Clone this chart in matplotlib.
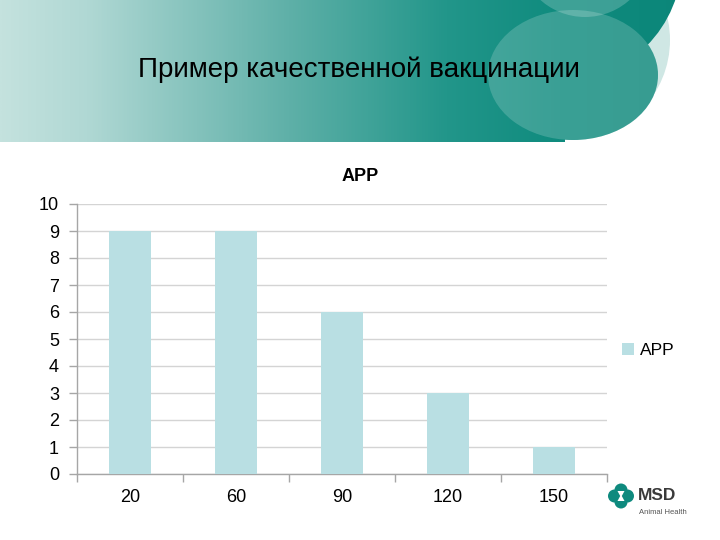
import numpy as np
import matplotlib
matplotlib.use("Agg")
import matplotlib.pyplot as plt
from matplotlib.patches import Rectangle, Circle, Ellipse, Polygon
from matplotlib.colors import LinearSegmentedColormap

plt.rcParams['font.family'] = ['Liberation Sans', 'DejaVu Sans']

categories = ['20', '60', '90', '120', '150']
values = [9, 9, 6, 3, 1]
series_name = 'APP'
chart_title = 'APP'
slide_title = 'Пример качественной вакцинации'
y_ticks = list(range(0, 11))

fig = plt.figure(figsize=(7.2, 5.4), dpi=100)
fig.patch.set_facecolor('white')

# ---- slide background header ----
bg = fig.add_axes([0, 0, 1, 1], zorder=0)
bg.set_xlim(0, 720)
bg.set_ylim(540, 0)
bg.axis('off')

cmap = LinearSegmentedColormap.from_list('hdr', [
    (0.0, '#c4e2de'), (0.12, '#b0d8d4'), (0.40, '#5fb0a8'),
    (0.62, '#22968a'), (0.78, '#0f8b7e'), (1.0, '#0b8578')])
grad = np.linspace(0, 1, 512).reshape(1, -1)

bg.add_patch(Circle((570, 40), 100, facecolor='#cfe7e4', edgecolor='none', zorder=1))

def grad_clipped(patch, z):
    patch.set_facecolor('none')
    patch.set_edgecolor('none')
    bg.add_patch(patch)
    im = bg.imshow(grad, extent=(0, 720, 150, -5), cmap=cmap, aspect='auto',
                   interpolation='bilinear', zorder=z)
    im.set_clip_path(patch)
    return im

grad_clipped(Rectangle((0, 0), 565, 142), 2)
grad_clipped(Circle((560, -40), 122), 2)
grad_clipped(Ellipse((573, 75), 170, 130), 3)
bg.add_patch(Ellipse((573, 75), 170, 130, facecolor='white', alpha=0.18,
                     edgecolor='none', zorder=4))
bg.add_patch(Circle((585, -50), 67, facecolor='white', alpha=0.2,
                    edgecolor='none', zorder=5))

fig.text(359 / 720, 1 - 70 / 540, slide_title, ha='center', va='center',
         fontsize=20, color='black', zorder=10)

# ---- MSD logo ----
teal = '#0e8a7e'
cx, cy = 621, 496
for dx, dy in [(-6.5, 0), (6.5, 0), (0, -6), (0, 6)]:
    bg.add_patch(Circle((cx + dx, cy + dy), 6.5, facecolor=teal, edgecolor='none', zorder=6))
bg.add_patch(Polygon([(cx - 3.5, cy - 5), (cx + 3.5, cy - 5), (cx + 0.8, cy),
                      (cx + 3.5, cy + 5), (cx - 3.5, cy + 5), (cx - 0.8, cy)],
                     closed=True, facecolor='white', edgecolor='none', zorder=7))
fig.text(638 / 720, 1 - 496 / 540, 'MSD', ha='left', va='center', fontsize=12.5,
         fontweight='bold', color='#3a3a3a')
fig.text(639 / 720, 1 - 513 / 540, 'Animal Health', ha='left', va='center',
         fontsize=5.5, color='#555555')

# ---- chart ----
ax = fig.add_axes([77 / 720, 66 / 540, 530 / 720, 270 / 540], zorder=2)
ax.patch.set_alpha(0)
x = np.arange(len(categories))
ax.bar(x, values, width=0.4, color='#b9dfe3', label=series_name, zorder=3)
ax.set_xlim(-0.5, len(categories) - 0.5)
ax.set_ylim(0, 10)
ax.set_yticks(y_ticks)
ax.tick_params(axis='y', length=6, width=1, color='#a6a6a6', labelsize=13, pad=7)
ax.set_xticks(np.arange(-0.5, len(categories), 1.0))
ax.set_xticklabels([])
ax.set_xticks(x, minor=True)
ax.set_xticklabels(categories, minor=True)
ax.tick_params(axis='x', which='major', length=6, width=1, color='#a6a6a6')
ax.tick_params(axis='x', which='minor', length=0, labelsize=13, pad=11)
ax.grid(axis='y', color='#d4d4d4', linewidth=1, zorder=0)
ax.set_axisbelow(True)
for s in ['top', 'right']:
    ax.spines[s].set_visible(False)
for s in ['left', 'bottom']:
    ax.spines[s].set_color('#a6a6a6')
    ax.spines[s].set_linewidth(1)

fig.text(360 / 720, 1 - 177 / 540, chart_title, ha='center', va='center',
         fontsize=13, fontweight='bold')

ax.legend(loc='center left', bbox_to_anchor=(1.015, 0.457), frameon=False,
          fontsize=12.5, handlelength=0.7, handleheight=0.7, handletextpad=0.35,
          borderaxespad=0)

fig.savefig('out.png', dpi=100)
